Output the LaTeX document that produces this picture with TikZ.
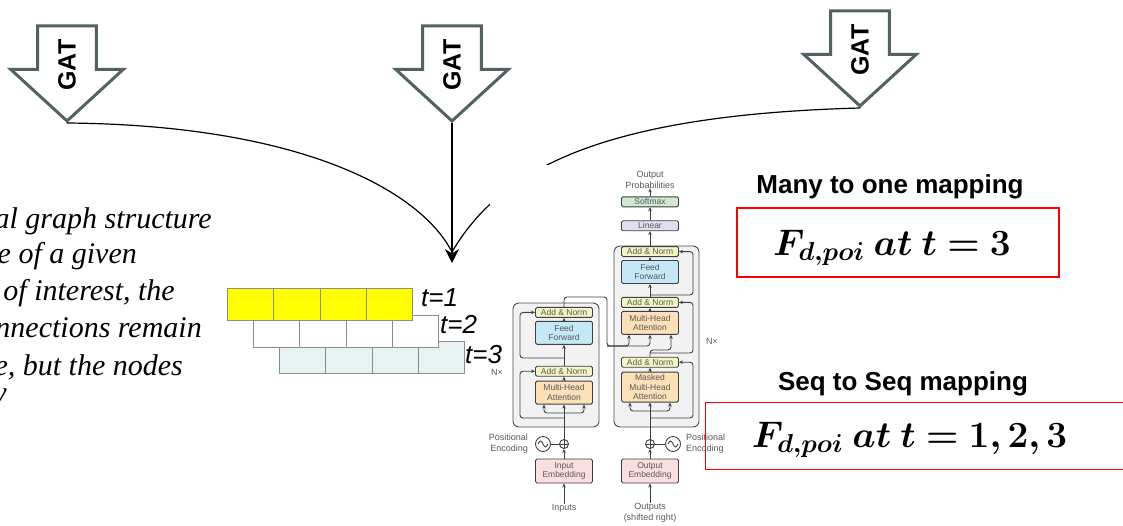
\documentclass[tikz,border=0pt]{standalone}
\usepackage{fix-cm}
\usepackage{fontspec}
\setmainfont{Liberation Serif}
\setsansfont{Liberation Sans}
\usepackage{bm}
\usetikzlibrary{positioning, shapes.arrows, arrows.meta}

\definecolor{gatgray}{RGB}{82,98,98}
\definecolor{rowyellow}{RGB}{255,255,0}
\definecolor{rowcyan}{RGB}{231,242,242}
\definecolor{anfill}{RGB}{243,245,196}
\definecolor{fffill}{RGB}{196,232,246}
\definecolor{mhafill}{RGB}{252,224,184}
\definecolor{embfill}{RGB}{250,222,224}
\definecolor{linfill}{RGB}{222,224,242}
\definecolor{smfill}{RGB}{206,232,212}

\tikzset{
  gat/.style={single arrow, draw=gatgray, line width=3pt, fill=white, rotate=90,
    shape border rotate=180, single arrow head extend=27pt, single arrow tip angle=95,
    single arrow head indent=0pt, inner xsep=-3pt, inner ysep=19pt, minimum height=95pt,
    font=\sffamily\bfseries\fontsize{25}{25}\selectfont},
  tbox/.style={draw=black!75, line width=0.9pt, rounded corners=1.5pt, minimum width=57pt,
    inner sep=0pt, align=center, text=black!65, font=\sffamily\fontsize{8.5}{9.5}\selectfont},
  addnorm/.style={tbox, fill=anfill, minimum height=10pt},
  ffbox/.style={tbox, fill=fffill, minimum height=23pt},
  mhabox/.style={tbox, fill=mhafill, minimum height=23pt},
  embbox/.style={tbox, fill=embfill, minimum height=24pt},
  tblock/.style={draw=black!70, line width=0.9pt, fill=black!5, rounded corners=6pt, inner sep=0pt},
  tlabel/.style={text=black!65, font=\sffamily\fontsize{9}{11}\selectfont, align=center, inner sep=0pt},
  tline/.style={draw=black!75, line width=0.9pt},
  tarrow/.style={tline, -{Stealth[length=4pt,width=3.5pt]}},
  cell/.style={draw=black!45, line width=0.8pt, minimum width=46.25pt, minimum height=32pt,
    inner sep=0pt, anchor=north west},
  tlab/.style={anchor=base west, inner sep=0pt, font=\sffamily\itshape\fontsize{26}{26}\selectfont},
  desc/.style={anchor=base east, inner sep=0pt, font=\itshape\fontsize{30}{30}\selectfont},
  maptitle/.style={anchor=base, inner sep=0pt, font=\sffamily\bfseries\fontsize{26}{26}\selectfont},
  redbox/.style={draw=red, line width=1.4pt, inner sep=0pt},
  eq/.style={anchor=base, inner sep=0pt, font=\fontsize{37}{37}\selectfont}
}

\begin{document}
\begin{tikzpicture}[x=1pt, y=-1pt, >=stealth]
  \useasboundingbox (0,0) rectangle (1123,525);

  % GAT arrows
  \node[gat, anchor=tip] (gat1) at (67,123) {\hspace{-10pt}GAT\hspace{10pt}};
  \node[gat, anchor=tip] (gat2) at (452,123) {\hspace{-10pt}GAT\hspace{10pt}};
  \node[gat, anchor=tip] (gat3) at (860,108) {\hspace{-10pt}GAT\hspace{10pt}};

  % merging curves
  \coordinate (merge) at (452,252);
  \coordinate (mergetip) at (452,263);
  \draw[line width=1.2pt] (gat1.tip) .. controls (300,125) and (420,190) .. (merge);
  \draw[line width=1.2pt] (gat3.tip) .. controls (600,115) and (500,170) .. (merge);
  \draw[line width=1.2pt, -{Stealth[length=14pt,width=14pt]}] (gat2.tip) -- (mergetip);

  % transformer picture
  \fill[white] (490,165) rectangle (737,525);
  \node[tblock, minimum width=86pt, minimum height=124pt] (encblock) at (556,365) {};
  \node[tblock, minimum width=85pt, minimum height=181pt] (decblock) at (656.5,336.5) {};

  \node[embbox] (inemb) at (564,471) {Input\\Embedding};
  \node[mhabox, above=54pt of inemb] (encmha) {Multi-Head\\Attention};
  \node[addnorm, above=4pt of encmha] (encan1) {Add \& Norm};
  \node[ffbox, above=21pt of encan1] (encff) {Feed\\Forward};
  \node[addnorm, above=3pt of encff] (encan2) {Add \& Norm};

  \node[embbox] (outemb) at (650,471) {Output\\Embedding};
  \node[mhabox, minimum height=30pt, above=56pt of outemb] (decmmha) {Masked\\Multi-Head\\Attention};
  \node[addnorm, above=4pt of decmmha] (decan1) {Add \& Norm};
  \node[mhabox, above=22pt of decan1] (decmha) {Multi-Head\\Attention};
  \node[addnorm, above=3pt of decmha] (decan2) {Add \& Norm};
  \node[ffbox, above=13pt of decan2] (decff) {Feed\\Forward};
  \node[addnorm, above=3pt of decff] (decan3) {Add \& Norm};
  \node[tbox, fill=linfill, minimum height=10pt, above=15pt of decan3] (linear) {Linear};
  \node[tbox, fill=smfill, minimum height=10pt, above=13pt of linear] (softmax) {Softmax};
  \node[tlabel, above=8pt of softmax] (outprob) {Output\\Probabilities};

  \node[tline, circle, inner sep=0pt, minimum size=9pt] (encplus) at (564,444) {};
  \node[tline, circle, inner sep=0pt, minimum size=15pt] (encsine) at (543,444) {};
  \node[tline, circle, inner sep=0pt, minimum size=9pt] (decplus) at (650,444) {};
  \node[tline, circle, inner sep=0pt, minimum size=15pt] (decsine) at (673,444) {};
  \draw[tline] (encplus.north) -- (encplus.south) (encplus.west) -- (encplus.east);
  \draw[tline] (decplus.north) -- (decplus.south) (decplus.west) -- (decplus.east);
  \draw[tline] ([xshift=-5pt]encsine.center) sin ++(2.5,-3) cos ++(2.5,3) sin ++(2.5,3) cos ++(2.5,-3);
  \draw[tline] ([xshift=-5pt]decsine.center) sin ++(2.5,-3) cos ++(2.5,3) sin ++(2.5,3) cos ++(2.5,-3);

  \node[tlabel, align=right, anchor=east] (encpos) at (528,444) {Positional\\Encoding};
  \node[tlabel, align=left, anchor=west] (decpos) at (686,444) {Positional\\Encoding};
  \node[tlabel] (inputs) at (564,508) {Inputs};
  \node[tlabel] (outputs) at (650,513) {Outputs\\(shifted right)};
  \node[tlabel] (encn) at (497,372) {N×};
  \node[tlabel] (decn) at (712,341) {N×};

  % encoder wiring
  \draw[tarrow] (inputs) -- (inemb);
  \draw[tarrow] (inemb) -- (encplus);
  \draw[tline] (encsine) -- (encplus);
  \draw[tarrow] (encplus) -- (encmha);
  \draw[tarrow, rounded corners=3pt] (564,413) -| ([xshift=-20pt]encmha.south);
  \draw[tarrow, rounded corners=3pt] (564,413) -| ([xshift=20pt]encmha.south);
  \draw[tarrow, rounded corners=3pt] (564,418) -- (520,418) |- (encan1.west);
  \draw[tarrow] (encmha) -- (encan1);
  \draw[tarrow] (encan1) -- (encff);
  \draw[tarrow, rounded corners=3pt] (564,358) -- (520,358) |- (encan2.west);
  \draw[tarrow] (encff) -- (encan2);
  \draw[tline, rounded corners=3pt] (encan2) -- (564,297) -- (607,297) -- (607,346) -- (628,346);
  \draw[tarrow, rounded corners=3pt] (607,346) -| ([xshift=-21pt]decmha.south);
  \draw[tarrow, rounded corners=3pt] (607,346) -| (decmha.south);

  % decoder wiring
  \draw[tarrow] (outputs) -- (outemb);
  \draw[tarrow] (outemb) -- (decplus);
  \draw[tline] (decsine) -- (decplus);
  \draw[tarrow] (decplus) -- (decmmha);
  \draw[tarrow, rounded corners=3pt] (650,411) -| ([xshift=-20pt]decmmha.south);
  \draw[tarrow, rounded corners=3pt] (650,411) -| ([xshift=20pt]decmmha.south);
  \draw[tarrow, rounded corners=3pt] (650,418) -- (693,418) |- (decan1.east);
  \draw[tarrow] (decmmha) -- (decan1);
  \draw[tarrow, rounded corners=3pt] (decan1) -- (650,350) -| ([xshift=21pt]decmha.south);
  \draw[tarrow, rounded corners=3pt] (650,353) -- (693,353) |- (decan2.east);
  \draw[tarrow] (decmha) -- (decan2);
  \draw[tarrow] (decan2) -- (decff);
  \draw[tarrow, rounded corners=3pt] (650,295) -- (693,295) |- (decan3.east);
  \draw[tarrow] (decff) -- (decan3);
  \draw[tarrow] (decan3) -- (linear);
  \draw[tarrow] (linear) -- (softmax);
  \draw[tarrow] (softmax) -- (outprob);

  % time steps
  \foreach \r/\col in {3/rowcyan, 2/white, 1/rowyellow}
    \foreach \c in {1,...,4}
      \node[cell, fill=\col] (cell\r\c) at ({227+(\r-1)*26+(\c-1)*46.25}, {288+(\r-1)*26.5}) {};
  \foreach \r/\xl/\yl in {1/421/306, 2/440/333, 3/465/363}
    \node[tlab] (t\r) at (\xl,\yl) {t=\r};

  % description
  \foreach \xe/\yb/\txt [count=\i] in {212/228/{al graph structure}, 137/263/{e of a given},
      175/300/{of interest, the}, 202/337/{nnections remain}, 183/375/{e, but the nodes}, 7/402/{y}}
    \node[desc] (desc\i) at (\xe,\yb) {\txt};

  % mappings
  \node[maptitle] (title1) at (890,193) {Many to one mapping};
  \node[redbox, minimum width=322pt, minimum height=69pt] (box1) at (898,242.5) {};
  \node[eq] (eq1) at (892,255) {$\bm{F_{d,poi}\ at\ t=3}$};
  \node[maptitle] (title2) at (903,390) {Seq to Seq mapping};
  \node[redbox, minimum width=440pt, minimum height=67pt, anchor=north west] (box2) at (705,402) {};
  \node[eq] (eq2) at (909.5,447) {$\bm{F_{d,poi}\ at\ t=1,2,3}$};
\end{tikzpicture}
\end{document}
